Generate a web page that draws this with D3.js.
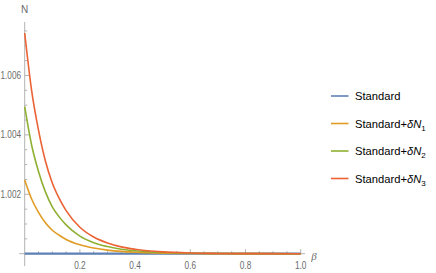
<!DOCTYPE html>
<html>
<head>
<meta charset="utf-8">
<script src="https://cdn.jsdelivr.net/npm/d3@7"></script>
<style>
  body { margin: 0; background: #fff; }
  svg text { font-family: "Liberation Sans", Arial, sans-serif; }
</style>
</head>
<body>
<div id="grafica"></div>
<script>
// datos
const beta = [0, 0.025, 0.05, 0.075, 0.1, 0.125, 0.15, 0.2, 0.25, 0.3, 0.35, 0.4, 0.5, 0.6, 0.7, 0.8, 0.9, 1.0]
const standard = [1, 1, 1, 1, 1, 1, 1, 1, 1, 1, 1, 1, 1, 1, 1, 1, 1, 1]
const dN1 = [1.00248, 1.00184, 1.00139, 1.00104, 1.00079, 1.00062, 1.00048, 1.00030, 1.00019, 1.00012, 1.000077, 1.00005, 1.00002, 1.0000075, 1.000003, 1.0000012, 1.0000005, 1.0000002]
const dN2 = [1.00495, 1.00366, 1.00277, 1.00208, 1.00158, 1.00124, 1.00097, 1.00059, 1.00037, 1.00024, 1.00015, 1.00010, 1.00004, 1.000015, 1.000006, 1.0000025, 1.000001, 1.0000005]
const dN3 = [1.00743, 1.0055, 1.00416, 1.00312, 1.00238, 1.00186, 1.00145, 1.00089, 1.00056, 1.00036, 1.00023, 1.00015, 1.00006, 1.000022, 1.000009, 1.0000037, 1.0000015, 1.0000007]

const seriesNames = ["Standard", "Standard+", "Standard+", "Standard+"]
const seriesSub = ["", "1", "2", "3"]
const colors = ["#5e81b5", "#e19c24", "#8fb032", "#eb6235"]
const yTickLabels = [1.002, 1.004, 1.006]
const xTickLabels = [0.2, 0.4, 0.6, 0.8, 1.0]

const width = 436, height = 273

const xScale = d3.scaleLinear().domain([0, 1]).range([24.7, 300.7])
const yScale = d3.scaleLinear().domain([1, 1.0078]).range([253.7, 22])

const svg = d3.select('#grafica').append("svg")
  .attr("width", width).attr("height", height)

const gray = "#b3b3b3"
const labelColor = "#6b6b6b"

// ejes
svg.append("line")
  .attr("x1", xScale(0)).attr("x2", xScale(0))
  .attr("y1", yScale(0.99958)).attr("y2", yScale(1.0078))
  .attr("stroke", gray).attr("stroke-width", 1)
svg.append("line")
  .attr("x1", xScale(-0.02)).attr("x2", xScale(1.016))
  .attr("y1", yScale(1)).attr("y2", yScale(1))
  .attr("stroke", gray).attr("stroke-width", 1)

// marcas eje x
const xMinor = d3.range(0.05, 1.001, 0.05)
svg.selectAll(".xt").data(xMinor).enter().append("line")
  .attr("x1", d => xScale(d)).attr("x2", d => xScale(d))
  .attr("y1", yScale(1))
  .attr("y2", d => yScale(1) - (Math.abs(d * 5 - Math.round(d * 5)) < 1e-6 ? 4.5 : 2.5))
  .attr("stroke", gray)
svg.selectAll(".xl").data(xTickLabels).enter().append("text")
  .attr("x", d => xScale(d)).attr("y", 269)
  .attr("text-anchor", "middle").attr("font-size", 10)
  .attr("textLength", 11.5).attr("lengthAdjust", "spacingAndGlyphs")
  .attr("fill", labelColor)
  .text(d => d3.format(".1f")(d))

// marcas eje y
const yMinor = d3.range(1.0005, 1.0076, 0.0005)
svg.selectAll(".yt").data(yMinor).enter().append("line")
  .attr("y1", d => yScale(d)).attr("y2", d => yScale(d))
  .attr("x1", xScale(0))
  .attr("x2", d => xScale(0) + (Math.abs((d - 1) * 500 - Math.round((d - 1) * 500)) < 1e-6 ? 4.5 : 2.5))
  .attr("stroke", gray)
svg.selectAll(".yl").data(yTickLabels).enter().append("text")
  .attr("x", 21).attr("y", d => yScale(d) + 3.5)
  .attr("text-anchor", "end").attr("font-size", 10)
  .attr("textLength", 20.5).attr("lengthAdjust", "spacingAndGlyphs")
  .attr("fill", labelColor)
  .text(d => d3.format(".3f")(d))

svg.append("text").attr("x", 24.5).attr("y", 12.5)
  .attr("text-anchor", "middle").attr("font-size", 10)
  .attr("fill", labelColor).text("N")
svg.append("text").attr("x", 314).attr("y", 260)
  .attr("text-anchor", "middle").attr("font-size", 11)
  .attr("font-style", "italic")
  .style("font-family", "'Liberation Serif', serif")
  .attr("fill", labelColor).text("β")

// curvas
const allSeries = [standard, dN1, dN2, dN3]
const line = d3.line()
  .x((d, i) => xScale(beta[i]))
  .y(d => yScale(d))
  .curve(d3.curveMonotoneX)

const plot = svg.append("g")
allSeries.forEach((s, k) => {
  plot.append("path")
    .datum(s)
    .attr("fill", "none")
    .attr("stroke", colors[k])
    .attr("stroke-width", k == 0 ? 2.2 : 1.6)
    .attr("d", line)
})

// leyenda
const legendY = [96, 123.5, 151, 178.5]
const legend = svg.append("g")
allSeries.forEach((s, k) => {
  legend.append("line")
    .attr("x1", 331).attr("x2", 348.5)
    .attr("y1", legendY[k]).attr("y2", legendY[k])
    .attr("stroke", colors[k]).attr("stroke-width", 1.6)
  const t = legend.append("text")
    .attr("x", 355).attr("y", legendY[k] + 4)
    .attr("font-size", 11.2).attr("fill", "#000")
    .text(seriesNames[k])
  if (seriesSub[k]) {
    t.append("tspan").attr("font-style", "italic").text("δN")
    t.append("tspan").attr("font-size", 8).attr("dy", 3).text(seriesSub[k])
  }
})
</script>
</body>
</html>
